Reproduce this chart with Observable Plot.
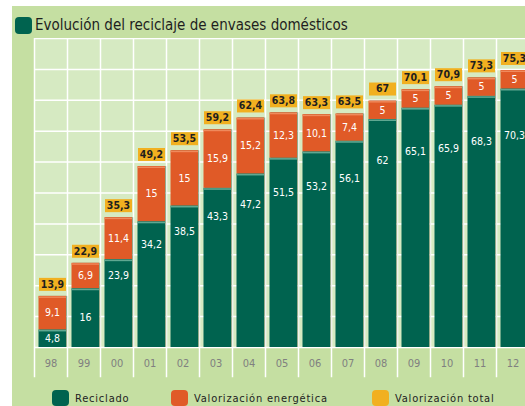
<!DOCTYPE html>
<html>
<head>
<meta charset="utf-8">
<script src="https://cdn.jsdelivr.net/npm/d3@7"></script>
<script src="https://cdn.jsdelivr.net/npm/@observablehq/plot@0.6"></script>
<style>
  html, body { margin: 0; padding: 0; background: #fff; overflow: hidden; width: 525px; height: 406px; }
  #panel { position: absolute; left: 12px; top: 6px; width: 513px; height: 400px; background: #c5dfa2; overflow: hidden;
           font-family: "DejaVu Sans Condensed", "Liberation Sans Narrow", Roboto, sans-serif; }
  #title { position: absolute; left: 3px; top: 10px; height: 18px; display: flex; align-items: center; }
  #title .sq { width: 17px; height: 17px; border-radius: 4px; background: #00634f; margin-right: 3px; }
  #title span { font-size: 15px; color: #1e1e1e; letter-spacing: 0px; }
  #chart { position: absolute; left: 0; top: 32px; }
  #chart svg { background: transparent; overflow: hidden; }
  .leg { position: absolute; top: 384px; display: flex; align-items: center; font-size: 11px; color: #222; letter-spacing: 0.8px; }
  .leg .sq { width: 17px; height: 16px; border-radius: 4px; margin-right: 6px; }
</style>
</head>
<body>
<div id="panel">
  <div id="title"><div class="sq"></div><span>Evolución del reciclaje de envases domésticos</span></div>
  <div id="chart"></div>
  <div id="legend"></div>
</div>
<script>
const years = ["98","99","00","01","02","03","04","05","06","07","08","09","10","11","12"];
const reciclado = [4.8,16,23.9,34.2,38.5,43.3,47.2,51.5,53.2,56.1,62,65.1,65.9,68.3,70.3];
const valorizacionEnergetica = [9.1,6.9,11.4,15,15,15.9,15.2,12.3,10.1,7.4,5,5,5,5,5];
const valorizacionTotal = [13.9,22.9,35.3,49.2,53.5,59.2,62.4,63.8,63.3,63.5,67,70.1,70.9,73.3,75.3];
const seriesNames = ["Reciclado","Valorización energética","Valorización total"];
const colors = ["#00634f","#e05a27","#f1b020"];

const fmt = v => String(v).replace(".", ",");
const idx = years.map((_, i) => i);
const rows = idx.map(i => ({
  year: years[i],
  rec: reciclado[i],
  val: valorizacionEnergetica[i],
  tot: valorizacionTotal[i]
}));

const box = { draw(ctx) { ctx.rect(-13.5, -6.5, 27, 13); } };
const bandInsetL = 4.5, bandInsetR = 1;

const chart = Plot.plot({
  width: 513,
  height: 345,
  marginLeft: 22,
  marginRight: 0,
  marginTop: 0,
  marginBottom: 36,
  style: { background: "transparent", fontFamily: "\"DejaVu Sans Condensed\", \"Liberation Sans Narrow\", Roboto, sans-serif" },
  x: { type: "band", domain: years, range: [22, 517], padding: 0, label: null },
  y: { domain: [0, 84], axis: null },
  marks: [
    Plot.frame({ fill: "#d6eac2", stroke: null }),
    Plot.ruleY(d3.range(0, 84.01, 8.4), { stroke: "#fff", strokeWidth: 1.5 }),
    Plot.ruleX(years, { x: d => d, dx: -16.5, y1: -8.2, y2: 84, stroke: "#fff", strokeWidth: 1.5 }),
    // shadow
    Plot.barY(rows, { x: "year", y1: 0, y2: "tot", dx: 1.2, fill: "#3b5a35", fillOpacity: 0.45, insetLeft: bandInsetL, insetRight: bandInsetR }),
    Plot.barY(rows, { x: "year", y1: 0, y2: "rec", fill: colors[0], insetLeft: bandInsetL, insetRight: bandInsetR }),
    Plot.barY(rows, { x: "year", y1: "rec", y2: "tot", fill: colors[1], insetLeft: bandInsetL, insetRight: bandInsetR }),
    Plot.tickY(rows, { x: "year", y: "rec", dy: 0.8, stroke: "#5fa892", strokeWidth: 1.6, insetLeft: bandInsetL, insetRight: bandInsetR }),
    Plot.tickY(rows, { x: "year", y: "tot", dy: 0.8, stroke: "#ef8a5c", strokeWidth: 1.4, insetLeft: bandInsetL, insetRight: bandInsetR }),
    Plot.text(rows, { x: "year", y: d => d.rec < 20 ? d.rec / 2 : d.rec * 0.82, dx: 1.5, text: d => fmt(d.rec), fill: "#fff", fontSize: 10.5 }),
    Plot.text(rows, { x: "year", y: d => d.rec + d.val / 2, dx: 1.5, text: d => fmt(d.val), fill: "#fff", fontSize: 10.5 }),
    Plot.dot(rows, { x: "year", y: "tot", dx: 1.5, dy: -12, symbol: box, fill: colors[2], stroke: null }),
    Plot.text(rows, { x: "year", y: "tot", dx: 1.5, dy: -12, text: d => fmt(d.tot), fill: "#1e1e1e", fontSize: 10.5, fontWeight: "bold" }),
    Plot.axisX({ tickSize: 0, tickPadding: 12, fontSize: 11, fill: "#808080", label: null })
  ]
});
document.getElementById("chart").appendChild(chart);

const legendPos = [40, 159, 360];
const legend = document.getElementById("legend");
seriesNames.forEach((name, i) => {
  const d = document.createElement("div");
  d.className = "leg";
  d.style.left = legendPos[i] + "px";
  d.innerHTML = `<div class="sq" style="background:${colors[i]}"></div><span>${name}</span>`;
  legend.appendChild(d);
});
</script>
</body>
</html>
